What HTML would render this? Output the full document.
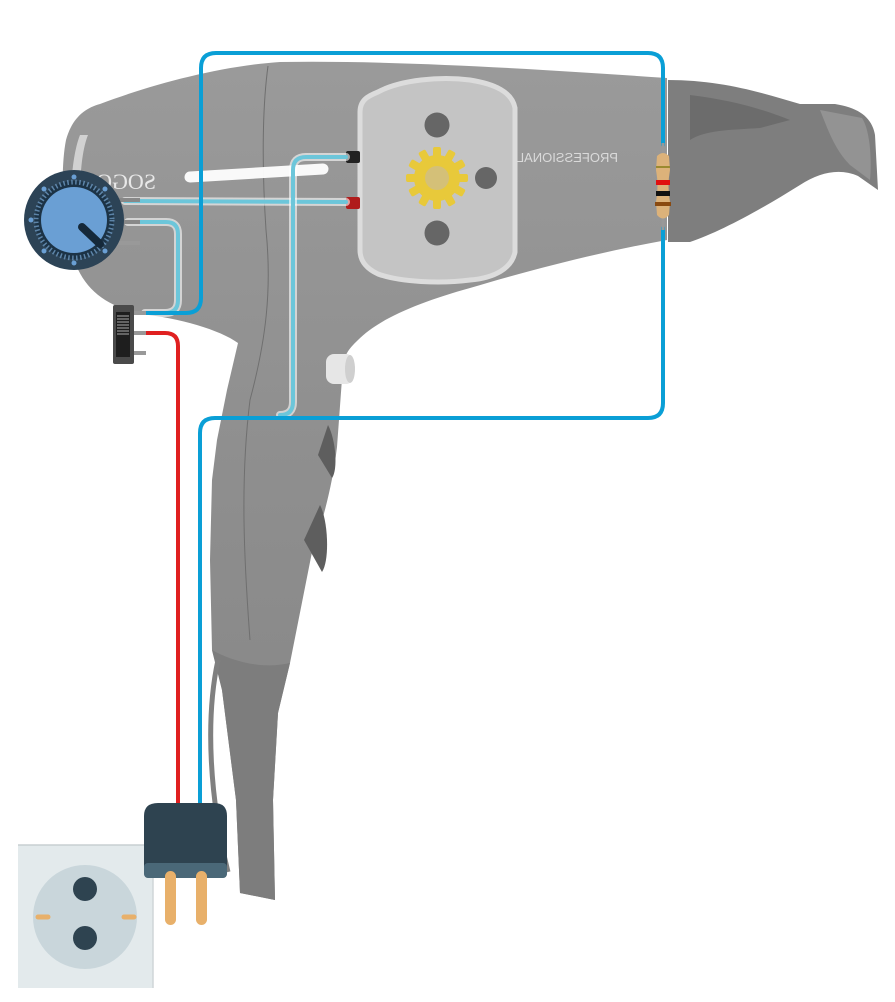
<!DOCTYPE html>
<html><head><meta charset="utf-8"><style>html,body{margin:0;padding:0;background:#fff}svg{display:block}</style></head>
<body>
<svg width="895" height="1002" viewBox="0 0 895 1002" xmlns="http://www.w3.org/2000/svg">
<defs>
<linearGradient id="bg" x1="0" y1="0" x2="0" y2="1"><stop offset="0" stop-color="#9a9a9a"/><stop offset="0.5" stop-color="#8e8e8e"/><stop offset="1" stop-color="#858585"/></linearGradient>
</defs>
<!-- nozzle -->
<path d="M668,80 C720,80 760,92 800,104 L835,104 C860,108 872,118 875,135 L878,190 L858,176 C840,168 820,172 800,185 C760,210 720,232 690,242 L668,242 Z" fill="#7e7e7e"/>
<path d="M690,95 C730,100 760,108 790,120 L760,128 C730,130 705,130 690,140 Z" fill="#6c6c6c"/>
<path d="M820,110 L862,118 C870,130 872,160 870,180 L850,165 C835,150 828,130 820,110 Z" fill="#939393"/>
<!-- barrel -->
<path d="M667,78 L667,240 C600,252 530,270 470,288 C420,302 380,318 358,340 C352,346 345,352 343,365 L337,447 C332,490 320,530 313,547 L290,663 L278,713 L273,800 L275,900 L240,893 L236,800 L222,690 L212,650 L210,560 L212,480 L217,440 L227,390 L238,343 C220,330 180,318 140,314 C105,305 85,290 74,260 C62,230 60,170 66,140 C72,118 85,108 100,104 C150,85 220,66 280,62 C400,60 550,70 667,78 Z" fill="url(#bg)"/>
<path d="M80,135 C70,160 68,215 76,250 L86,250 C78,215 78,160 88,135 Z" fill="#e0e0e0" opacity="0.8"/>
<path d="M268,66 C262,110 262,170 266,230 C272,290 266,340 250,400 C240,480 244,560 250,640" fill="none" stroke="#6f6f6f" stroke-width="1"/>
<!-- handle lower dark part -->
<path d="M212,650 C230,660 260,670 290,663 L278,713 L273,800 L275,900 L240,893 L236,800 L222,690 Z" fill="#7d7d7d"/>
<path d="M218,660 C205,720 210,800 228,872" fill="none" stroke="#808080" stroke-width="5"/>
<!-- handle buttons -->
<path d="M328,425 C336,440 338,470 332,478 L318,455 Z" fill="#5e5e5e"/>
<path d="M320,505 C328,520 330,560 322,572 L304,540 Z" fill="#5e5e5e"/>
<!-- small white button -->
<rect x="326" y="354" width="28" height="30" rx="8" fill="#e6e6e6"/>
<ellipse cx="350" cy="369" rx="5" ry="14" fill="#cfcfcf"/>
<!-- slider -->
<line x1="190" y1="177" x2="323" y2="169" stroke="#fff" stroke-width="11" stroke-linecap="round" opacity="0.95"/>
<!-- text -->
<text transform="translate(156,189) scale(-1,1)" font-family="Liberation Serif, serif" font-size="22" fill="#e8e8e8">SOGO</text>
<text transform="translate(618,162) scale(-1,1)" font-family="Liberation Sans, sans-serif" font-size="13" fill="#dadada">PROFESSIONAL</text>
<!-- motor panel -->
<path d="M378,92 C400,80 440,76 470,80 C495,84 512,92 515,108 L515,252 C512,268 495,278 470,280 C440,284 400,282 378,274 C365,268 360,260 360,250 L360,112 C360,100 368,96 378,92 Z" fill="#c4c4c4" stroke="#dcdcdc" stroke-width="5"/>
<circle cx="437" cy="125" r="12.5" fill="#666"/>
<circle cx="437" cy="233" r="12.5" fill="#666"/>
<circle cx="486" cy="178" r="11" fill="#666"/>
<g transform="translate(437,178)" fill="#e8c93a">
<circle r="23"/>
<g id="t"><rect x="-4" y="-31" width="8" height="12" rx="2"/></g>
<use href="#t" transform="rotate(30)"/><use href="#t" transform="rotate(60)"/><use href="#t" transform="rotate(90)"/><use href="#t" transform="rotate(120)"/><use href="#t" transform="rotate(150)"/><use href="#t" transform="rotate(180)"/><use href="#t" transform="rotate(210)"/><use href="#t" transform="rotate(240)"/><use href="#t" transform="rotate(270)"/><use href="#t" transform="rotate(300)"/><use href="#t" transform="rotate(330)"/>
<circle r="12" fill="#d4c078"/>
</g>
<!-- connectors -->
<rect x="346" y="151" width="14" height="12" rx="2" fill="#222"/>
<rect x="346" y="197" width="14" height="12" rx="2" fill="#b01c1c"/>
<g fill="none" stroke-linecap="round" stroke-linejoin="round">
<path d="M125,201 L346,202" stroke="#fff" stroke-width="8" opacity="0.6"/>
<path d="M125,201 L346,202" stroke="#6cc6da" stroke-width="4"/>
<path d="M346,157 L306,157 Q293,157 293,170 L293,402 Q293,415 280,415" stroke="#fff" stroke-width="8" opacity="0.6"/>
<path d="M346,157 L306,157 Q293,157 293,170 L293,402 Q293,415 280,415" stroke="#6cc6da" stroke-width="4"/>
<path d="M128,222 L166,222 Q178,222 178,234 L178,300 Q178,313 165,313 L145,313" stroke="#fff" stroke-width="8" opacity="0.6"/>
<path d="M128,222 L166,222 Q178,222 178,234 L178,300 Q178,313 165,313 L145,313" stroke="#6cc6da" stroke-width="4"/>
<path d="M145,313 L186,313 Q201,313 201,298 L201,68 Q201,53 216,53 L648,53 Q663,53 663,68 L663,145 M663,228 L663,403 Q663,418 648,418 L215,418 Q200,418 200,433 L200,806" stroke="#0a9fd6" stroke-width="4"/>
<path d="M145,333 L165,333 Q178,333 178,346 L178,806" stroke="#e02020" stroke-width="4"/>
</g>
<!-- resistor -->
<line x1="663" y1="143" x2="663" y2="230" stroke="#999" stroke-width="3"/>
<path d="M657,156 Q663,150 669,156 L670,170 Q667,186 670,202 L669,215 Q663,222 657,215 L656,202 Q659,186 656,170 Z" fill="#dcb27a"/>
<rect x="656" y="166" width="14" height="2" fill="#9a8a30"/>
<rect x="656" y="180" width="14" height="5" fill="#e01010"/>
<rect x="656" y="191" width="14" height="5" fill="#111"/>
<rect x="655" y="202" width="16" height="4" fill="#8a4a10"/>
<!-- knob -->
<rect x="118" y="198" width="22" height="4" fill="#888"/>
<rect x="118" y="220" width="22" height="4" fill="#888"/>
<rect x="118" y="241" width="22" height="4" fill="#999"/>
<circle cx="74" cy="220" r="50" fill="#2c4356"/>
<circle cx="74" cy="220" r="39" fill="#1c3346"/>
<circle cx="74" cy="220" r="38" fill="none" stroke="#5d84a8" stroke-width="5" stroke-dasharray="1.5 2.5"/>
<circle cx="74" cy="220" r="33" fill="#6a9fd4"/>
<line x1="82" y1="227" x2="100" y2="244" stroke="#15293a" stroke-width="8" stroke-linecap="round"/>
<g fill="#6a9fd4"><circle cx="74" cy="177" r="2.5"/><circle cx="74" cy="263" r="2.5"/><circle cx="31" cy="220" r="2.5"/><circle cx="44" cy="189" r="2.5"/><circle cx="105" cy="189" r="2.5"/><circle cx="44" cy="251" r="2.5"/><circle cx="105" cy="251" r="2.5"/></g>
<!-- switch -->
<rect x="130" y="311" width="16" height="4" fill="#999"/>
<rect x="130" y="331" width="16" height="4" fill="#999"/>
<rect x="130" y="351" width="16" height="4" fill="#999"/>
<rect x="113" y="305" width="21" height="59" rx="2" fill="#4a4a4a"/>
<rect x="116" y="312" width="14" height="45" fill="#1e1e1e"/>
<g stroke="#aaa" stroke-width="1"><line x1="117" y1="316" x2="129" y2="316"/><line x1="117" y1="319" x2="129" y2="319"/><line x1="117" y1="322" x2="129" y2="322"/><line x1="117" y1="325" x2="129" y2="325"/><line x1="117" y1="328" x2="129" y2="328"/><line x1="117" y1="331" x2="129" y2="331"/><line x1="117" y1="334" x2="129" y2="334"/></g>
<!-- socket -->
<rect x="18" y="845" width="135" height="143" fill="#e3eaec"/>
<line x1="18" y1="845" x2="153" y2="845" stroke="#c8cfd2" stroke-width="1.5"/>
<line x1="153" y1="845" x2="153" y2="988" stroke="#d0d6d8" stroke-width="1.5"/>
<circle cx="85" cy="917" r="52" fill="#c9d6db"/>
<circle cx="85" cy="889" r="12" fill="#2e4350"/>
<circle cx="85" cy="938" r="12" fill="#2e4350"/>
<line x1="38" y1="917" x2="48" y2="917" stroke="#e8b06a" stroke-width="5" stroke-linecap="round"/>
<line x1="124" y1="917" x2="134" y2="917" stroke="#e8b06a" stroke-width="5" stroke-linecap="round"/>
<!-- plug -->
<path d="M158,803 L214,803 Q227,803 227,816 L227,872 Q227,878 221,878 L150,878 Q144,878 144,872 L144,816 Q144,803 158,803 Z" fill="#2e4350"/>
<rect x="144" y="863" width="83" height="15" rx="4" fill="#4a6878"/>
<rect x="165" y="871" width="11" height="54" rx="5.5" fill="#e8b06a"/>
<rect x="196" y="871" width="11" height="54" rx="5.5" fill="#e8b06a"/>
</svg>
</body></html>
